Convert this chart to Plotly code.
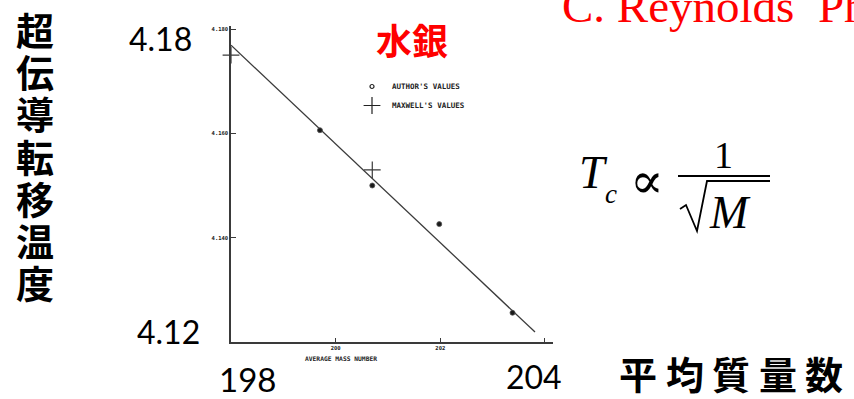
import plotly.graph_objects as go

# Superconducting transition temperature of mercury vs. average isotopic mass
author_mass = [199.70, 200.70, 201.98, 203.38]
author_tc = [4.1606, 4.1500, 4.1426, 4.1256]

maxwell_mass = [198.0, 200.70]
maxwell_tc = [4.1750, 4.1530]

fit_mass = [198.0, 203.81]
fit_tc = [4.1769, 4.1219]

x_tickvals = [200, 202, 204]
x_ticktext = ["200", "202", ""]
y_tickvals = [4.14, 4.16, 4.18]
y_ticktext = ["4.140", "4.160", "4.180"]

W, H = 854, 399


def fx(p):
    return p / W


def fy(p):
    return 1 - p / H


INK = "#3a3a3a"

fig = go.Figure()

fig.add_trace(go.Scatter(
    x=fit_mass, y=fit_tc, mode="lines",
    line=dict(color=INK, width=1.3), showlegend=False, hoverinfo="skip",
))
fig.add_trace(go.Scatter(
    x=author_mass, y=author_tc, mode="markers",
    marker=dict(symbol="circle", size=5, color="#1a1a1a",
                line=dict(color="#555", width=0.8)),
    showlegend=False, cliponaxis=False,
))
fig.add_trace(go.Scatter(
    x=maxwell_mass, y=maxwell_tc, mode="markers",
    marker=dict(symbol="cross-thin-open", size=12, color=INK,
                line=dict(color=INK, width=1.2)),
    showlegend=False, cliponaxis=False,
))

# legend keys
fig.add_trace(go.Scatter(
    x=[None], y=[None], mode="markers", name="AUTHOR'S VALUES",
    marker=dict(symbol="circle-open", size=4, color="#222",
                line=dict(color="#222", width=1.2)),
))
fig.add_trace(go.Scatter(
    x=[None], y=[None], mode="markers", name="MAXWELL'S VALUES",
    marker=dict(symbol="cross-thin-open", size=12, color="#222",
                line=dict(color="#222", width=1.2)),
))

x0, x1 = 231, 552.8
y_bot, y_top = 342, 26.4

tick_font = dict(family="DejaVu Sans Mono", size=5.5, color="#222", weight="bold")

fig.update_xaxes(
    domain=[fx(x0), fx(x1)], range=[198, 204.15],
    showgrid=False, zeroline=False,
    showline=True, linecolor=INK, linewidth=1.5,
    tickvals=x_tickvals, ticktext=x_ticktext,
    ticks="inside", ticklen=4, tickcolor=INK, tickwidth=1.2,
    tickfont=tick_font,
)
fig.update_yaxes(
    domain=[fy(y_bot), fy(y_top)], range=[4.12, 4.1805],
    showgrid=False, zeroline=False,
    showline=True, linecolor=INK, linewidth=1.5,
    tickvals=y_tickvals, ticktext=y_ticktext,
    ticks="inside", ticklen=5, tickcolor=INK, tickwidth=1.2,
    tickfont=tick_font,
)

ann = []


def text(x, y, s, size, family, color="black", xanchor="center", yanchor="middle"):
    ann.append(dict(
        x=fx(x), y=fy(y), xref="paper", yref="paper", text=s, showarrow=False,
        xanchor=xanchor, yanchor=yanchor,
        font=dict(size=size, family=family, color=color),
    ))


# x-axis caption of the original plot
text(341, 358, "<b>AVERAGE MASS NUMBER</b>", 6.3, "DejaVu Sans Mono", "#222")

# large axis annotations
text(160.5, 38.5, "4.18", 32, "Lato")
text(168.5, 331.5, "4.12", 32, "Lato")
text(247.5, 379, "198", 33, "Lato")
text(533.5, 376, "204", 32, "Lato")

# vertical y title
cjk = "Noto Sans CJK JP"
for i, ch in enumerate("超伝導転移温度"):
    text(35, 28.5 + i * 42.2, f"<b>{ch}</b>", 38, cjk)

# x title
for i, ch in enumerate("平均質量数"):
    text(638 + i * 46.6, 372, f"<b>{ch}</b>", 38, cjk)

# element name
text(412, 39, "<b>水銀</b>", 36, cjk, "#ff0000")

# reference
text(560, 6, "C. Reynolds  Phys. Rev.", 47, "Liberation Serif", "#ff0000", xanchor="left")

# formula  T_c ∝ 1/√M
serif = "Liberation Serif"
text(593, 172.5, "<i>T</i>", 46, serif)
text(611, 194, "<i>c</i>", 27, serif)
text(647, 181, "∝", 50, "DejaVu Serif")
text(723, 155, "1", 38, serif)
text(730, 212.5, "<i>M</i>", 46, serif)

shapes = [
    dict(type="line", xref="paper", yref="paper",
         x0=fx(678), x1=fx(770), y0=fy(176), y1=fy(176),
         line=dict(color="black", width=2)),
    dict(type="path", xref="paper", yref="paper",
         path=(f"M {fx(680)},{fy(209)} L {fx(686)},{fy(205)} L {fx(697)},{fy(231)} "
               f"L {fx(707)},{fy(181)} L {fx(770)},{fy(181)}"),
         line=dict(color="black", width=1.8)),
]

fig.update_layout(
    width=W, height=H,
    margin=dict(l=0, r=0, t=0, b=0),
    paper_bgcolor="white", plot_bgcolor="white",
    annotations=ann, shapes=shapes,
    showlegend=True,
    legend=dict(
        x=fx(352), y=fy(72), xanchor="left", yanchor="top",
        bgcolor="rgba(0,0,0,0)", borderwidth=0,
        font=dict(family="DejaVu Sans Mono", size=7.5, color="#222", weight="bold"),
        itemwidth=30, tracegroupgap=0,
    ),
)

fig.write_html("out.html")
